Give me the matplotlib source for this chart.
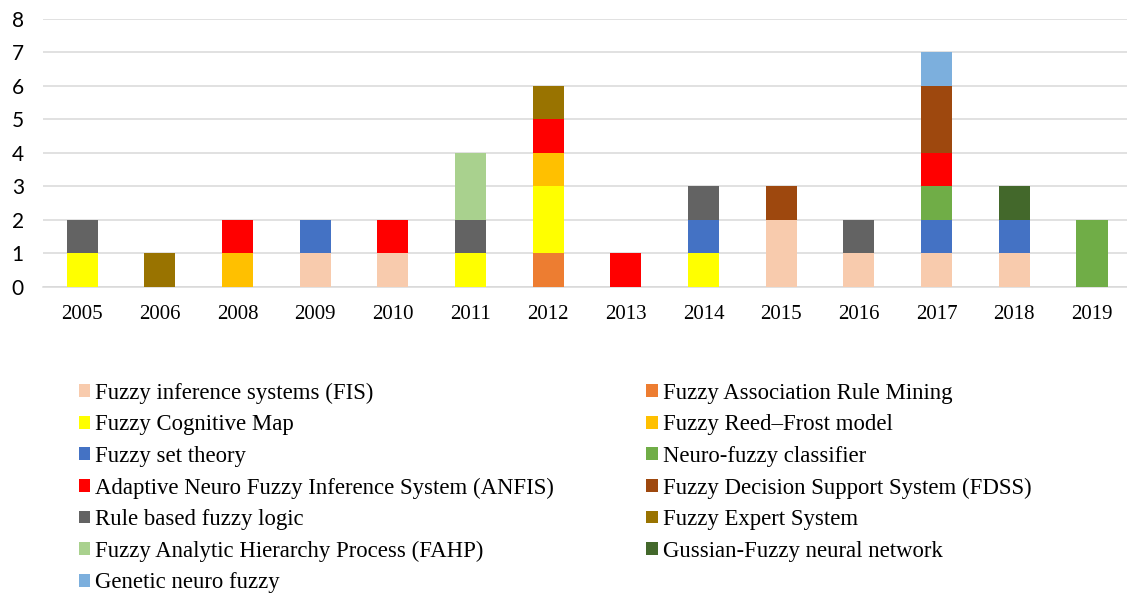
import matplotlib
matplotlib.use('Agg')
import matplotlib.pyplot as plt
import numpy as np

# years on the x axis (categorical, 2007 is missing)
years = ['2005', '2006', '2008', '2009', '2010', '2011', '2012',
         '2013', '2014', '2015', '2016', '2017', '2018', '2019']

# counts per method, one value per year
fis        = [0, 0, 0, 1, 1, 0, 0, 0, 0, 2, 1, 1, 1, 0]
farm       = [0, 0, 0, 0, 0, 0, 1, 0, 0, 0, 0, 0, 0, 0]
fcm        = [1, 0, 0, 0, 0, 1, 2, 0, 1, 0, 0, 0, 0, 0]
reed_frost = [0, 0, 1, 0, 0, 0, 1, 0, 0, 0, 0, 0, 0, 0]
set_theory = [0, 0, 0, 1, 0, 0, 0, 0, 1, 0, 0, 1, 1, 0]
neuro_cls  = [0, 0, 0, 0, 0, 0, 0, 0, 0, 0, 0, 1, 0, 2]
anfis      = [0, 0, 1, 0, 1, 0, 1, 1, 0, 0, 0, 1, 0, 0]
fdss       = [0, 0, 0, 0, 0, 0, 0, 0, 0, 1, 0, 2, 0, 0]
rule_based = [1, 0, 0, 0, 0, 1, 0, 0, 1, 0, 1, 0, 0, 0]
expert     = [0, 1, 0, 0, 0, 0, 1, 0, 0, 0, 0, 0, 0, 0]
fahp       = [0, 0, 0, 0, 0, 2, 0, 0, 0, 0, 0, 0, 0, 0]
gussian    = [0, 0, 0, 0, 0, 0, 0, 0, 0, 0, 0, 0, 1, 0]
genetic    = [0, 0, 0, 0, 0, 0, 0, 0, 0, 0, 0, 1, 0, 0]

labels = ['Fuzzy inference systems (FIS)', 'Fuzzy Association Rule Mining',
          'Fuzzy Cognitive Map', 'Fuzzy Reed\u2013Frost model',
          'Fuzzy set theory', 'Neuro-fuzzy classifier',
          'Adaptive Neuro Fuzzy Inference System (ANFIS)',
          'Fuzzy Decision Support System (FDSS)',
          'Rule based fuzzy logic', 'Fuzzy Expert System',
          'Fuzzy Analytic Hierarchy Process (FAHP)',
          'Gussian-Fuzzy neural network', 'Genetic neuro fuzzy']
series = [fis, farm, fcm, reed_frost, set_theory, neuro_cls, anfis,
          fdss, rule_based, expert, fahp, gussian, genetic]
colors = ['#F8CBAD', '#ED7D31', '#FFFF00', '#FFC000', '#4472C4', '#70AD47',
          '#FF0000', '#9E480E', '#636363', '#997300', '#A9D18E', '#43682B',
          '#7CAFDD']

fig = plt.figure(figsize=(11.27, 6), dpi=100)
ax = fig.add_axes([0.0384, 0.5222, 0.965, 0.4462])

x = np.arange(len(years))
bottom = np.zeros(len(years))
handles = []
for vals, lab, col in zip(series, labels, colors):
    b = ax.bar(x, vals, 0.4, bottom=bottom, color=col, label=lab, zorder=3)
    handles.append(b)
    bottom += np.array(vals)

ax.set_xlim(-0.5, 13.5)
ax.set_ylim(0, 8)
ax.set_yticks(range(0, 9))
ax.yaxis.grid(True, color='#D9D9D9', linewidth=1.1, zorder=0)
for s in ['top', 'right', 'left']:
    ax.spines[s].set_visible(False)
ax.spines['bottom'].set_color('#D9D9D9')
ax.spines['bottom'].set_linewidth(1.1)
ax.set_xticks(x)
ax.set_xticklabels(years, fontfamily='Liberation Serif', fontsize=15)
ax.tick_params(axis='x', length=0, pad=13)
ax.tick_params(axis='y', length=0, pad=14, labelsize=15)
for t in ax.get_yticklabels():
    t.set_fontfamily('Lato')

# legend is laid out row by row in two columns
order = list(range(0, 13, 2)) + list(range(1, 13, 2))
fig.legend([handles[i] for i in order], [labels[i] for i in order],
           loc='upper left', bbox_to_anchor=(0.0701, 0.362), ncol=2,
           frameon=False, prop={'family': 'Liberation Serif', 'size': 16.4},
           handlelength=0.5, handleheight=0.5, handletextpad=0.22,
           labelspacing=0.46, columnspacing=4.04, borderpad=0, borderaxespad=0)

fig.savefig('out.png', dpi=100)
